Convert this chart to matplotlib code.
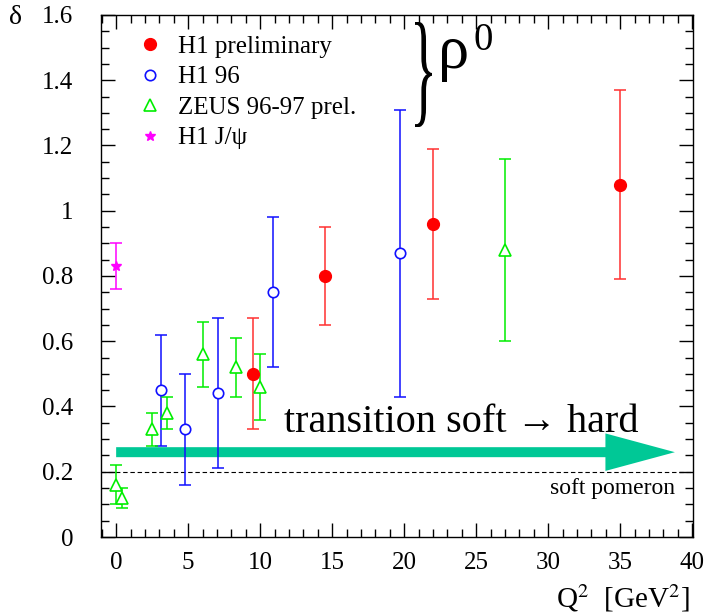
import matplotlib
matplotlib.use("Agg")
import matplotlib.pyplot as plt
from matplotlib.ticker import MultipleLocator
from matplotlib.textpath import TextPath
from matplotlib.patches import PathPatch
from matplotlib.font_manager import FontProperties
import matplotlib.transforms as mtransforms

plt.rcParams["font.family"] = ["Liberation Serif", "DejaVu Serif"]
plt.rcParams["mathtext.fontset"] = "stix"

# H1 preliminary (filled red circles)
h1p_q2 = [9.5, 14.5, 22.0, 35.0]
h1p_d = [0.50, 0.80, 0.96, 1.08]
h1p_lo = [0.33, 0.65, 0.73, 0.79]
h1p_hi = [0.67, 0.95, 1.19, 1.37]

# H1 96 (open blue circles)
h196_q2 = [3.1, 4.8, 7.1, 10.9, 19.7]
h196_d = [0.45, 0.33, 0.44, 0.75, 0.87]
h196_lo = [0.28, 0.16, 0.21, 0.52, 0.43]
h196_hi = [0.62, 0.50, 0.67, 0.98, 1.31]

# ZEUS 96-97 prel. (open green triangles)
zeus_q2 = [0.0, 0.4, 2.5, 3.5, 6.0, 8.3, 10.0, 27.0]
zeus_d = [0.16, 0.12, 0.33, 0.38, 0.56, 0.52, 0.46, 0.88]
zeus_lo = [0.10, 0.09, 0.28, 0.33, 0.46, 0.43, 0.36, 0.60]
zeus_hi = [0.22, 0.15, 0.38, 0.43, 0.66, 0.61, 0.56, 1.16]

# H1 J/psi (magenta star)
jpsi_q2 = [0.0]
jpsi_d = [0.83]
jpsi_lo = [0.76]
jpsi_hi = [0.90]

soft_pomeron = 0.2
arrow_start, arrow_end, arrow_y = 0.0, 38.8, 0.26

x_ticks = [0, 5, 10, 15, 20, 25, 30, 35, 40]
y_ticks = [0, 0.2, 0.4, 0.6, 0.8, 1.0, 1.2, 1.4, 1.6]
y_tick_labels = ["0", "0.2", "0.4", "0.6", "0.8", "1", "1.2", "1.4", "1.6"]


def yerr(d, lo, hi):
    return [[v - l for v, l in zip(d, lo)], [h - v for v, h in zip(d, hi)]]


fig = plt.figure(figsize=(7.18, 6.14), dpi=100)
ax = fig.add_axes([0.1407, 0.1254, 0.8243, 0.8502])

sets = [
    (h1p_q2, h1p_d, h1p_lo, h1p_hi, "#ff3030", dict(marker="o", color="red", ms=8.5), "H1 preliminary"),
    (h196_q2, h196_d, h196_lo, h196_hi, "#1010ff", dict(marker="o", color="#1010ff", mfc="white", ms=7.5, mew=1.2), "H1 96"),
    (zeus_q2, zeus_d, zeus_lo, zeus_hi, "#00ee00", dict(marker="^", color="#00ee00", mfc="white", ms=8, mew=1.2), "ZEUS 96-97 prel."),
    (jpsi_q2, jpsi_d, jpsi_lo, jpsi_hi, "#ff00ff", dict(marker="*", color="#ff00ff", ms=7), "H1 J/\u03c8"),
]
for q2, d, lo, hi, ecol, mstyle, label in sets:
    ax.errorbar(q2, d, yerr=yerr(d, lo, hi), fmt="none", ecolor=ecol,
                elinewidth=1.1, capsize=4.5, capthick=1.1, zorder=3)
    ax.plot(q2, d, ls="none", label=label, zorder=4, **mstyle)

ax.axhline(soft_pomeron, color="black", lw=0.8, ls=(0, (4, 2.5)), zorder=1)
ax.text(38.8, 0.15, "soft pomeron", ha="right", va="center", fontsize=17)

ax.annotate("", xy=(arrow_end, arrow_y), xytext=(arrow_start, arrow_y),
            arrowprops=dict(arrowstyle="simple,head_length=5.0,head_width=2.7,tail_width=0.72",
                            fc="#00c896", ec="none", mutation_scale=10, shrinkA=0, shrinkB=0),
            zorder=2)
ax.text(24.0, 0.35, "transition soft \u2192 hard", ha="center", va="center", fontsize=29)

ax.set_xlim(-1.05, 40.05)
ax.set_ylim(0, 1.6)
ax.set_xticks(x_ticks)
ax.set_yticks(y_ticks)
ax.set_yticklabels(y_tick_labels)
ax.xaxis.set_minor_locator(MultipleLocator(1))
ax.yaxis.set_minor_locator(MultipleLocator(0.05))
ax.tick_params(which="both", direction="in", top=True, right=True, labelsize=18, width=1.0)
ax.tick_params(which="major", length=10)
ax.tick_params(which="minor", length=5.5)
ax.tick_params(axis="x", pad=11)
ax.tick_params(axis="y", pad=20)
for s in ax.spines.values():
    s.set_linewidth(1.0)

ax.legend(loc="upper left", bbox_to_anchor=(0.045, 0.98), frameon=False, fontsize=18,
          handlelength=1.0, handletextpad=0.6, labelspacing=0.32, borderaxespad=0)

fig.text(15 / 718, 1 - 17 / 614, "\u03b4", fontsize=20, ha="center", va="center")
fig.text(690 / 718, 1 - 607 / 614, r"Q$^2$  [GeV$^2$]", fontsize=21, ha="right", va="baseline")

# curly brace grouping the rho0 entries, stretched to the legend height
tp = TextPath((0, 0), "}", size=1, prop=FontProperties(family="Liberation Serif"))
ext = tp.get_extents()
bw, bh = 17.0, 105.0
brace_tr = (mtransforms.Affine2D()
            .translate(-ext.x0, -ext.y0)
            .scale(bw / ext.width, bh / ext.height)
            .translate(415, 614 - 127))
fig.patches.append(PathPatch(tp, transform=brace_tr, fc="black", ec="none", figure=fig))
fig.text(438 / 718, 1 - 68 / 614, "\u03c1", fontsize=45, ha="left", va="baseline")
fig.text(473 / 718, 1 - 50 / 614, "0", fontsize=28, ha="left", va="baseline")

fig.savefig("out.png", dpi=100)
